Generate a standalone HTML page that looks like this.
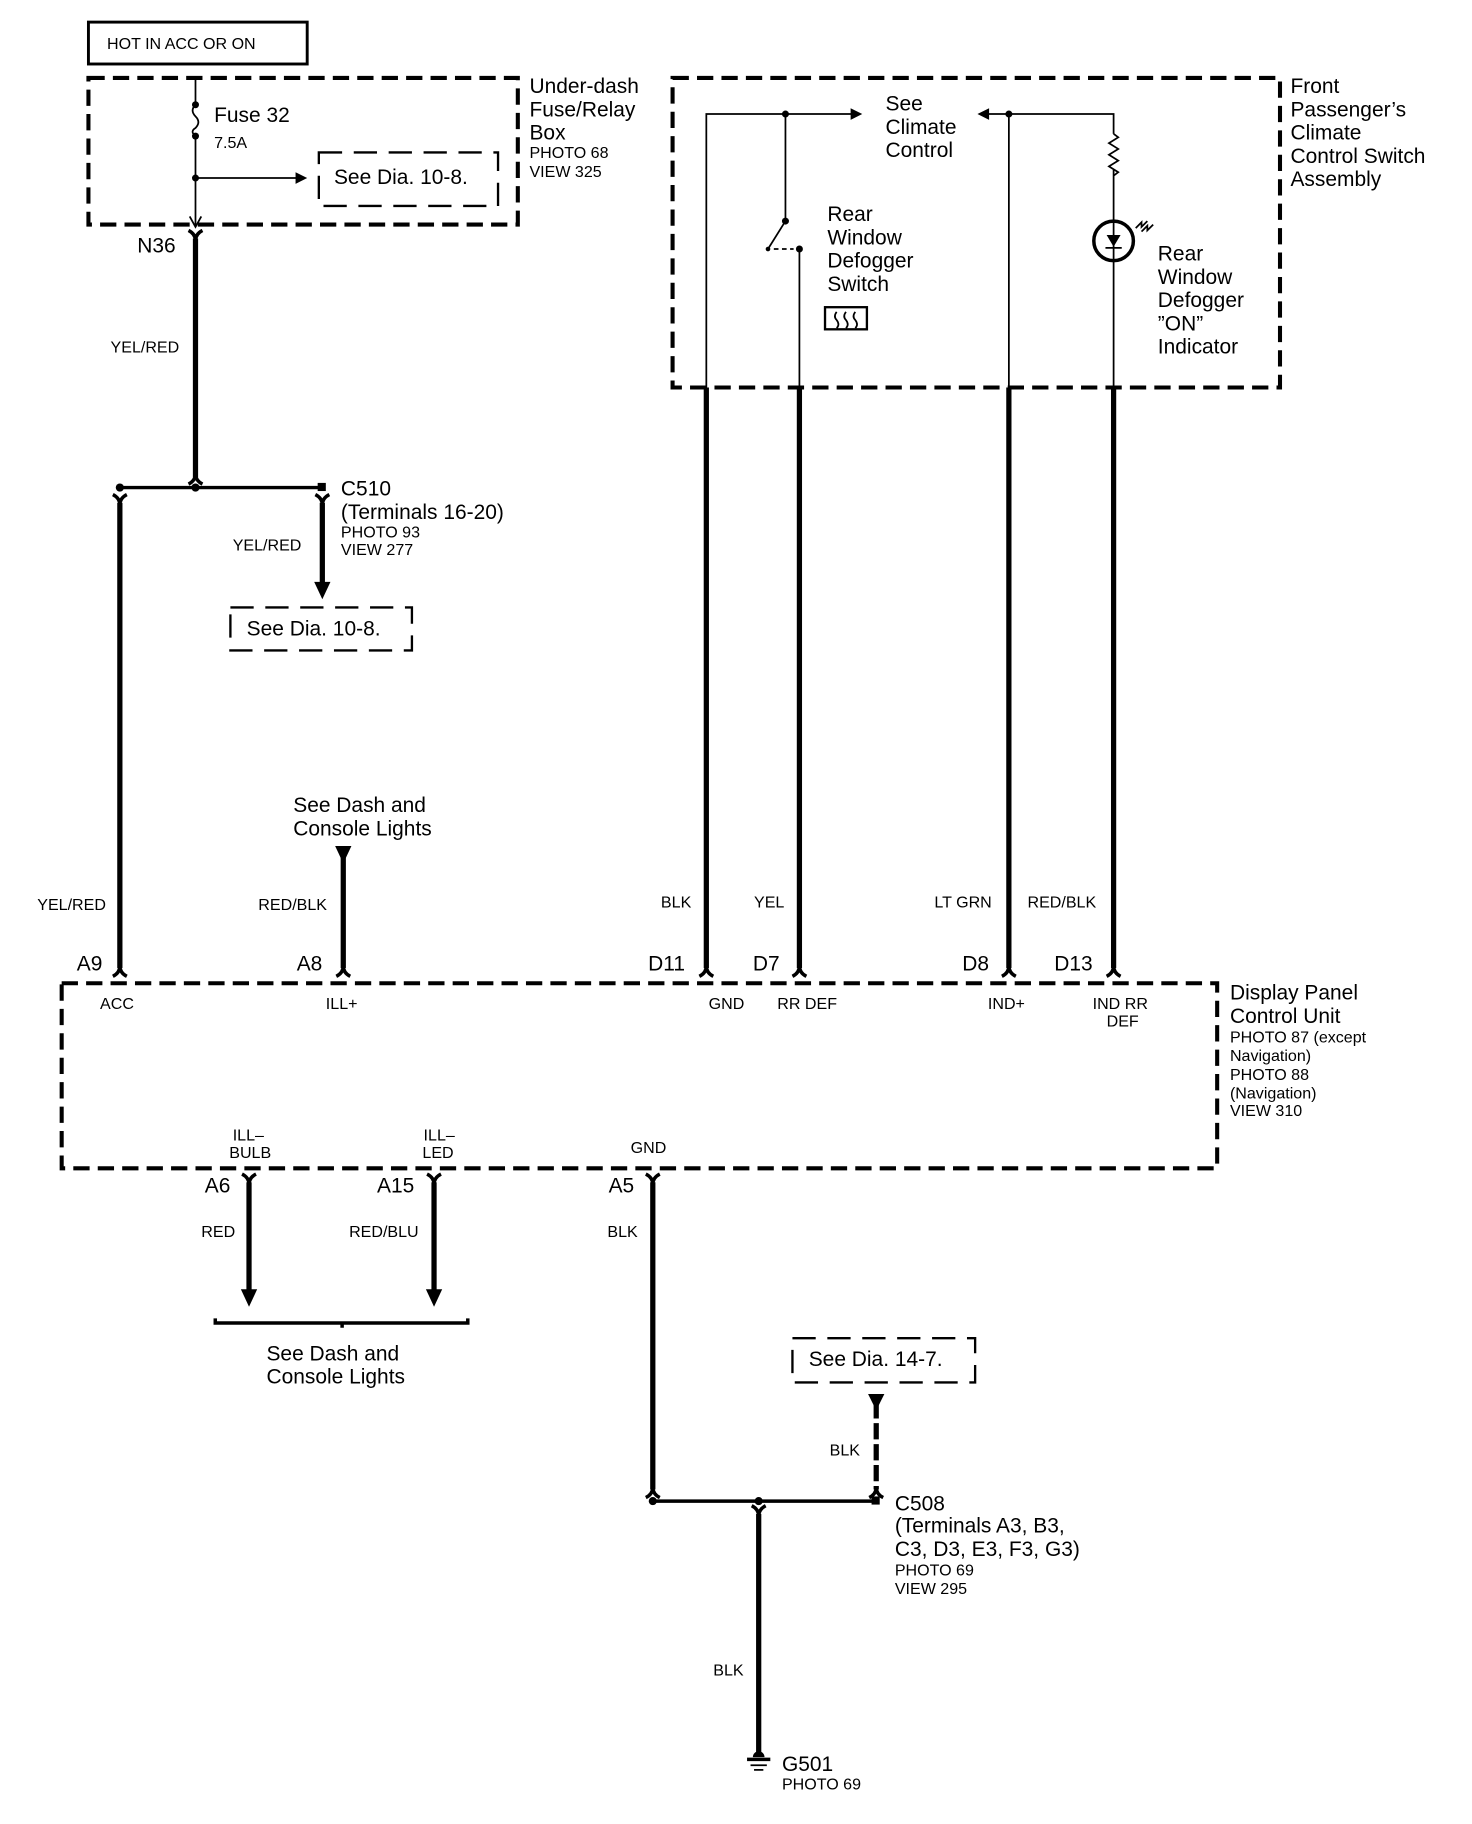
<!DOCTYPE html>
<html><head><meta charset="utf-8"><style>
html,body{margin:0;padding:0;background:#fff;}
svg{display:block;}
text{font-family:"Liberation Sans",sans-serif;fill:#000;}
.b{font-size:18px;}
.s{font-size:13.8px;}
.w{stroke:#000;stroke-width:4.5;fill:none;}
.t{stroke:#000;stroke-width:1.5;fill:none;}
.m{stroke:#000;stroke-width:3;fill:none;}
.d{stroke:#000;stroke-width:3.5;fill:none;stroke-dasharray:14,7;}
.dt{stroke:#000;stroke-width:2;fill:none;stroke-dasharray:20,10;}
</style></head><body>
<svg width="1472" height="1824" viewBox="0 0 1265 1567.5" preserveAspectRatio="none" xmlns="http://www.w3.org/2000/svg">
<defs>
<path id="fk" d="M-6,-5 Q0,-2 0,4 Q0,-2 6,-5" stroke="#000" stroke-width="3" fill="none"/>
<path id="ar" d="M-6,5 Q0,2 0,-4 Q0,2 6,5" stroke="#000" stroke-width="3" fill="none"/>
</defs>

<rect x="76" y="19" width="188" height="36" fill="none" stroke="#000" stroke-width="2.5"/>
<text x="92" y="42" class="s">HOT IN ACC OR ON</text>

<rect x="76" y="67" width="369" height="126" class="d"/>
<line x1="168" y1="67" x2="168" y2="90" class="t"/>
<circle cx="168" cy="90" r="3"/>
<path d="M168,90 q-5,5 0,10 q5,5 0,10 q-5,3 0,7" class="t"/>
<circle cx="168" cy="117" r="3"/>
<line x1="168" y1="117" x2="168" y2="195" class="t"/>
<path d="M163,186 L168,195 L173,186" class="t"/>
<circle cx="168" cy="153" r="3"/>
<line x1="168" y1="153" x2="256" y2="153" class="t"/>
<polygon points="254,148 264,153 254,158"/>
<text x="184" y="105" class="b">Fuse 32</text>
<text x="184" y="127" class="s">7.5A</text>
<rect x="274" y="131" width="154" height="46" class="dt"/>
<text x="287" y="158" class="b">See Dia. 10-8.</text>
<text x="455" y="80" class="b">Under-dash</text>
<text x="455" y="100" class="b">Fuse/Relay</text>
<text x="455" y="120" class="b">Box</text>
<text x="455" y="136" class="s">PHOTO 68</text>
<text x="455" y="152" class="s">VIEW 325</text>

<use href="#fk" x="168" y="203"/>
<line x1="168" y1="205" x2="168" y2="410" class="w"/>
<text x="118" y="217" class="b">N36</text>
<text x="95" y="303" class="s">YEL/RED</text>
<use href="#ar" x="168" y="411"/>
<line x1="103" y1="419" x2="277" y2="419" class="m"/>
<circle cx="103" cy="419" r="3.5"/><circle cx="168" cy="419" r="3.5"/>
<rect x="273" y="415" width="7" height="7"/>
<use href="#fk" x="103" y="430"/>
<use href="#fk" x="277" y="430"/>
<line x1="103" y1="432" x2="103" y2="832" class="w"/>
<line x1="277" y1="432" x2="277" y2="502" class="w"/>
<polygon points="270,500 284,500 277,515"/>
<text x="293" y="426" class="b">C510</text>
<text x="293" y="446" class="b">(Terminals 16-20)</text>
<text x="293" y="462" class="s">PHOTO 93</text>
<text x="293" y="477" class="s">VIEW 277</text>
<text x="200" y="473" class="s">YEL/RED</text>
<rect x="198" y="522" width="156" height="37" class="dt"/>
<text x="212" y="546" class="b">See Dia. 10-8.</text>

<rect x="578" y="67" width="522" height="266" class="d"/>
<text x="1109" y="80" class="b">Front</text>
<text x="1109" y="100" class="b">Passenger’s</text>
<text x="1109" y="120" class="b">Climate</text>
<text x="1109" y="140" class="b">Control Switch</text>
<text x="1109" y="160" class="b">Assembly</text>
<polyline points="607,333 607,98 733,98" class="t"/>
<polygon points="731,93 741,98 731,103"/>
<circle cx="675" cy="98" r="3"/>
<line x1="675" y1="98" x2="675" y2="190" class="t"/>
<circle cx="675" cy="190" r="3"/>
<line x1="675" y1="190" x2="660" y2="214" class="t"/>
<circle cx="660" cy="214" r="2"/>
<line x1="665" y1="214" x2="682" y2="214" class="t" stroke-dasharray="4,3"/>
<circle cx="687" cy="214" r="3"/>
<line x1="687" y1="214" x2="687" y2="333" class="t"/>
<text x="761" y="95" class="b">See</text>
<text x="761" y="115" class="b">Climate</text>
<text x="761" y="135" class="b">Control</text>
<polygon points="850,93 840,98 850,103"/>
<polyline points="848,98 957,98 957,115" class="t"/>
<circle cx="867" cy="98" r="3"/>
<line x1="867" y1="98" x2="867" y2="333" class="t"/>
<path d="M957,115 l4,3 l-8,5 l8,5 l-8,5 l8,5 l-8,5 l8,5 l-4,3" class="t"/>
<line x1="957" y1="146" x2="957" y2="190" class="t"/>
<circle cx="957" cy="207" r="17" stroke="#000" stroke-width="3" fill="none"/>
<polygon points="951,202 963,202 957,212"/>
<line x1="950" y1="213" x2="964" y2="213" class="t"/>
<line x1="957" y1="190" x2="957" y2="333" class="t"/>
<path d="M976,196 l5,-5 l0,4 l5,-5 M981,199 l5,-5 l0,4 l5,-5" class="t"/>
<text x="711" y="190" class="b">Rear</text>
<text x="711" y="210" class="b">Window</text>
<text x="711" y="230" class="b">Defogger</text>
<text x="711" y="250" class="b">Switch</text>
<rect x="709" y="264" width="36" height="19" fill="none" stroke="#000" stroke-width="2"/>
<path d="M719,268 q-3,4 0,7 q3,4 0,7 M727,268 q-3,4 0,7 q3,4 0,7 M735,268 q-3,4 0,7 q3,4 0,7" class="t"/>
<text x="995" y="224" class="b">Rear</text>
<text x="995" y="244" class="b">Window</text>
<text x="995" y="264" class="b">Defogger</text>
<text x="995" y="284" class="b">”ON”</text>
<text x="995" y="304" class="b">Indicator</text>

<line x1="607" y1="333" x2="607" y2="832" class="w"/>
<line x1="687" y1="333" x2="687" y2="832" class="w"/>
<line x1="867" y1="333" x2="867" y2="832" class="w"/>
<line x1="957" y1="333" x2="957" y2="832" class="w"/>
<line x1="295" y1="735" x2="295" y2="832" class="w"/>
<polygon points="288,727 302,727 295,742"/>
<text x="252" y="698" class="b">See Dash and</text>
<text x="252" y="718" class="b">Console Lights</text>
<use href="#ar" x="103" y="834"/><use href="#ar" x="295" y="834"/>
<use href="#ar" x="607" y="834"/><use href="#ar" x="687" y="834"/>
<use href="#ar" x="867" y="834"/><use href="#ar" x="957" y="834"/>
<text x="32" y="782" class="s">YEL/RED</text>
<text x="222" y="782" class="s">RED/BLK</text>
<text x="568" y="780" class="s">BLK</text>
<text x="648" y="780" class="s">YEL</text>
<text x="803" y="780" class="s">LT GRN</text>
<text x="883" y="780" class="s">RED/BLK</text>
<text x="66" y="834" class="b">A9</text>
<text x="255" y="834" class="b">A8</text>
<text x="557" y="834" class="b">D11</text>
<text x="647" y="834" class="b">D7</text>
<text x="827" y="834" class="b">D8</text>
<text x="906" y="834" class="b">D13</text>

<rect x="53" y="845" width="993" height="159" class="d"/>
<text x="86" y="867" class="s">ACC</text>
<text x="280" y="867" class="s">ILL+</text>
<text x="609" y="867" class="s">GND</text>
<text x="668" y="867" class="s">RR DEF</text>
<text x="849" y="867" class="s">IND+</text>
<text x="939" y="867" class="s">IND RR</text>
<text x="951" y="882" class="s">DEF</text>
<text x="1057" y="859" class="b">Display Panel</text>
<text x="1057" y="879" class="b">Control Unit</text>
<text x="1057" y="896" class="s">PHOTO 87 (except</text>
<text x="1057" y="912" class="s">Navigation)</text>
<text x="1057" y="928" class="s">PHOTO 88</text>
<text x="1057" y="944" class="s">(Navigation)</text>
<text x="1057" y="959" class="s">VIEW 310</text>
<text x="200" y="980" class="s">ILL–</text>
<text x="197" y="995" class="s">BULB</text>
<text x="364" y="980" class="s">ILL–</text>
<text x="363" y="995" class="s">LED</text>
<text x="542" y="991" class="s">GND</text>

<use href="#fk" x="214" y="1014"/><use href="#fk" x="373" y="1014"/><use href="#fk" x="561" y="1014"/>
<line x1="214" y1="1016" x2="214" y2="1110" class="w"/>
<polygon points="207,1108 221,1108 214,1123"/>
<line x1="373" y1="1016" x2="373" y2="1110" class="w"/>
<polygon points="366,1108 380,1108 373,1123"/>
<line x1="561" y1="1016" x2="561" y2="1280" class="w"/>
<text x="176" y="1025" class="b">A6</text>
<text x="324" y="1025" class="b">A15</text>
<text x="523" y="1025" class="b">A5</text>
<text x="173" y="1063" class="s">RED</text>
<text x="300" y="1063" class="s">RED/BLU</text>
<text x="522" y="1063" class="s">BLK</text>
<path d="M185,1133 L185,1137 L402,1137 L402,1133 M294,1137 L294,1141" class="m"/>
<text x="229" y="1169" class="b">See Dash and</text>
<text x="229" y="1189" class="b">Console Lights</text>

<rect x="681" y="1150" width="157" height="38" class="dt"/>
<text x="695" y="1174" class="b">See Dia. 14-7.</text>
<polygon points="746,1198 760,1198 753,1212"/>
<line x1="753" y1="1205" x2="753" y2="1280" class="w" stroke-dasharray="14,4"/>
<text x="713" y="1251" class="s">BLK</text>
<use href="#ar" x="561" y="1282"/><use href="#ar" x="753" y="1282"/>
<line x1="561" y1="1290" x2="753" y2="1290" class="m"/>
<circle cx="561" cy="1290" r="3.5"/><circle cx="652" cy="1290" r="3.5"/>
<rect x="749" y="1286" width="7" height="7"/>
<use href="#fk" x="652" y="1299"/>
<line x1="652" y1="1301" x2="652" y2="1508" class="w"/>
<path d="M647,1510 a5,5 0 0 1 10,0 z"/>
<line x1="642" y1="1512" x2="662" y2="1512" class="m"/>
<line x1="645" y1="1517" x2="659" y2="1517" class="t"/>
<line x1="648" y1="1521" x2="656" y2="1521" class="t"/>
<text x="769" y="1298" class="b">C508</text>
<text x="769" y="1317" class="b">(Terminals A3, B3,</text>
<text x="769" y="1337" class="b">C3, D3, E3, F3, G3)</text>
<text x="769" y="1354" class="s">PHOTO 69</text>
<text x="769" y="1370" class="s">VIEW 295</text>
<text x="613" y="1440" class="s">BLK</text>
<text x="672" y="1522" class="b">G501</text>
<text x="672" y="1538" class="s">PHOTO 69</text>
</svg>
</body></html>
